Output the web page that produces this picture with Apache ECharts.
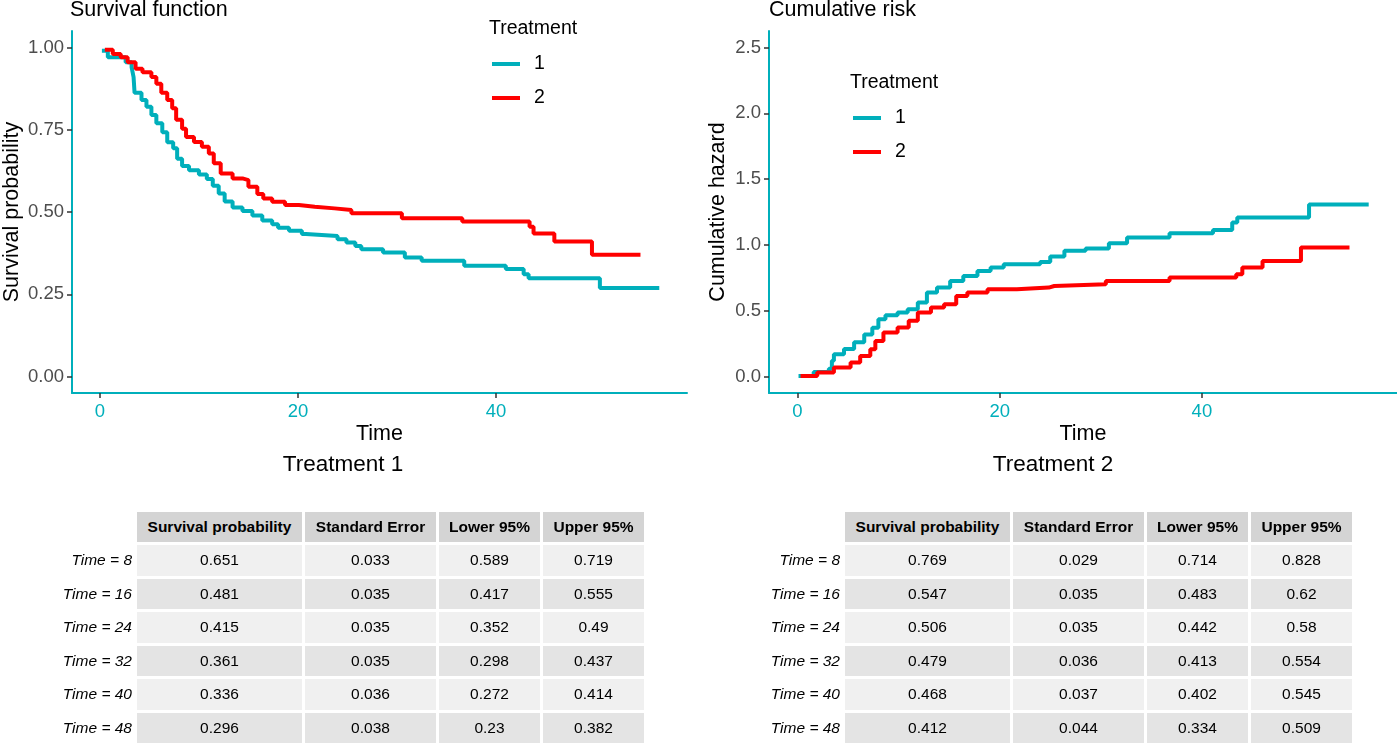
<!DOCTYPE html>
<html>
<head>
<meta charset="utf-8">
<script src="https://cdn.jsdelivr.net/npm/echarts@6/dist/echarts.min.js"></script>
<style>
html,body{margin:0;padding:0;background:#fff;}
#wrap{position:relative;width:1397px;height:744px;overflow:hidden;font-family:"Liberation Sans",Arial,Helvetica,sans-serif;}
#chart{position:absolute;left:0;top:0;width:1397px;height:744px;}
.cell{position:absolute;text-align:center;font-size:15.5px;color:#000;white-space:nowrap;}
.head{font-weight:bold;background:#D4D4D4;}
.odd{background:#F0F0F0;}
.even{background:#E4E4E4;}
.rlab{position:absolute;text-align:right;font-style:italic;font-size:15.5px;color:#000;white-space:nowrap;}
</style>
</head>
<body>
<div id="wrap"><div id="chart"></div></div>
<script>
// ---------------- data ----------------
// Survival function (Kaplan-Meier), treatment 1 and 2: [time, probability]
const survT1 = [[0.2,0.990],[0.8,0.970],[2.6,0.955],[3.2,0.940],[3.4,0.910],[3.5,0.862],[4.2,0.840],[4.7,0.820],[5.2,0.795],[5.7,0.770],[6.3,0.742],[6.8,0.712],[7.4,0.694],[7.8,0.662],[8.3,0.640],[9.0,0.627],[10.0,0.614],[10.8,0.600],[11.4,0.580],[12.0,0.556],[12.6,0.532],[13.4,0.514],[14.4,0.503],[15.4,0.489],[16.4,0.474],[17.4,0.463],[18.0,0.452],[19.1,0.443],[20.4,0.433],[20.8,0.427],[24.0,0.417],[24.9,0.407],[25.8,0.397],[26.4,0.387],[28.6,0.377],[30.8,0.362],[32.5,0.352],[36.8,0.337],[41.0,0.327],[42.8,0.311],[43.3,0.299],[50.5,0.269],[56.5,0.269]];
const survT2 = [[0.5,0.993],[1.3,0.980],[2.1,0.970],[2.8,0.955],[3.6,0.935],[4.3,0.925],[5.2,0.910],[5.7,0.890],[6.2,0.862],[6.8,0.840],[7.3,0.815],[7.7,0.780],[8.3,0.753],[8.7,0.728],[9.5,0.713],[10.3,0.698],[11.0,0.678],[11.5,0.648],[12.2,0.617],[13.4,0.602],[14.4,0.597],[15.0,0.577],[15.9,0.555],[16.5,0.541],[17.4,0.531],[18.7,0.521],[20.1,0.516],[21.7,0.511],[23.7,0.506],[25.4,0.496],[30.5,0.481],[36.6,0.471],[43.4,0.455],[43.8,0.435],[45.9,0.410],[49.7,0.370],[54.6,0.370]];
// Cumulative hazard: [time, hazard]
const hazT1 = [[0.1,0.005],[1.6,0.035],[3.1,0.060],[3.4,0.120],[3.6,0.170],[4.6,0.210],[5.6,0.260],[6.6,0.320],[7.4,0.370],[8.0,0.435],[8.7,0.466],[9.9,0.486],[10.9,0.511],[11.9,0.562],[12.8,0.638],[13.8,0.676],[15.1,0.726],[16.4,0.764],[17.8,0.802],[19.1,0.828],[20.4,0.853],[24.0,0.871],[25.0,0.912],[26.4,0.955],[28.5,0.973],[30.8,1.013],[32.6,1.056],[36.8,1.089],[41.1,1.114],[43.0,1.170],[43.5,1.208],[50.6,1.307],[56.5,1.307]];
const hazT2 = [[0.3,0.005],[1.95,0.030],[3.6,0.068],[5.25,0.106],[6.2,0.157],[7.2,0.207],[7.7,0.270],[8.5,0.334],[9.9,0.372],[11.0,0.423],[11.9,0.486],[13.2,0.524],[14.5,0.549],[15.7,0.612],[16.8,0.638],[18.8,0.663],[21.7,0.676],[24.85,0.688],[25.4,0.701],[30.5,0.726],[36.8,0.752],[43.4,0.777],[44.0,0.828],[46.0,0.878],[49.8,0.980],[54.6,0.980]];

const groupNames = ['1','2'];
const xTicks = [0,20,40];
const ySurvTicks = [0,0.25,0.5,0.75,1];
const yHazTicks = [0,0.5,1,1.5,2,2.5];

// Tables
const tableTitles = ['Treatment 1','Treatment 2'];
const rowLabels = ['Time = 8','Time = 16','Time = 24','Time = 32','Time = 40','Time = 48'];
const colLabels = ['Survival probability','Standard Error','Lower 95%','Upper 95%'];
const t1Surv  = [0.651,0.481,0.415,0.361,0.336,0.296];
const t1SE    = [0.033,0.035,0.035,0.035,0.036,0.038];
const t1Lower = [0.589,0.417,0.352,0.298,0.272,0.23];
const t1Upper = [0.719,0.555,0.49,0.437,0.414,0.382];
const t2Surv  = [0.769,0.547,0.506,0.479,0.468,0.412];
const t2SE    = [0.029,0.035,0.035,0.036,0.037,0.044];
const t2Lower = [0.714,0.483,0.442,0.413,0.402,0.334];
const t2Upper = [0.828,0.62,0.58,0.554,0.545,0.509];

// ---------------- chart ----------------
const TEAL = '#00AFBB', RED = '#FF0000';
const FONT = '"Liberation Sans", Arial, Helvetica, sans-serif';

function xAxisCfg(gi){
  return {
    type:'value', gridIndex:gi, min:-2.82, max:59.3,
    name:'Time', nameLocation:'middle', nameGap:30,
    nameTextStyle:{fontSize:21.5, color:'#000', fontFamily:FONT},
    axisLine:{show:true, onZero:false, lineStyle:{color:TEAL, width:2}},
    axisTick:{show:true, customValues:xTicks, length:5, lineStyle:{color:'#333', width:1.5}},
    axisLabel:{customValues:xTicks, color:TEAL, fontSize:18.5, margin:9, fontFamily:FONT},
    splitLine:{show:false}
  };
}
function yAxisCfg(gi, min, max, ticks, dec, name, gap){
  return {
    type:'value', gridIndex:gi, min:min, max:max,
    name:name, nameLocation:'middle', nameGap:gap,
    nameTextStyle:{fontSize:21.5, color:'#000', fontFamily:FONT},
    axisLine:{show:true, onZero:false, lineStyle:{color:TEAL, width:2}},
    axisTick:{show:true, customValues:ticks, length:5, lineStyle:{color:'#333', width:1.5}},
    axisLabel:{customValues:ticks, color:'#4D4D4D', fontSize:18.5, margin:8, fontFamily:FONT,
      formatter:v=>Number(v).toFixed(dec)},
    splitLine:{show:false}
  };
}
function stepSeries(name, data, color, gi){
  return {type:'line', name:name, data:data, xAxisIndex:gi, yAxisIndex:gi, step:'end',
    showSymbol:false, symbol:'none', lineStyle:{color:color, width:4}, itemStyle:{color:color},
    emphasis:{disabled:true}, animation:false, z:3};
}
function legendCfg(left, top){
  return {orient:'vertical', left:left, top:top, data:groupNames, icon:'rect',
    itemWidth:28, itemHeight:4, itemGap:14, padding:0, selectedMode:false,
    textStyle:{fontSize:19.5, color:'#000', fontFamily:FONT, padding:[0,0,0,9]}};
}
function txt(x, y, s, size, align){
  return {type:'text', x:x, y:y, style:{text:s, fontSize:size, fill:'#000', fontFamily:FONT,
    align:align||'left', verticalAlign:'middle'}};
}

const chart = echarts.init(document.getElementById('chart'), null, {renderer:'canvas'});
chart.setOption({
  animation:false,
  backgroundColor:'#fff',
  grid:[{left:70, top:31, width:617, height:362}, {left:769, top:31, width:628, height:362}],
  xAxis:[xAxisCfg(0), xAxisCfg(1)],
  yAxis:[yAxisCfg(0,-0.05,1.05,ySurvTicks,2,'Survival probability',49),
         yAxisCfg(1,-0.125,2.625,yHazTicks,1,'Cumulative hazard',40)],
  legend:[legendCfg(492,54), legendCfg(853,108)],
  series:[stepSeries(groupNames[0], survT1, TEAL, 0), stepSeries(groupNames[1], survT2, RED, 0),
          stepSeries(groupNames[0], hazT1, TEAL, 1), stepSeries(groupNames[1], hazT2, RED, 1)],
  graphic:[
    txt(70, 10, 'Survival function', 21.5),
    txt(769, 10, 'Cumulative risk', 21.5),
    txt(489, 29, 'Treatment', 19.5),
    txt(850, 83, 'Treatment', 19.5),
    txt(343, 465, tableTitles[0], 22.5, 'center'),
    txt(1053, 465, tableTitles[1], 22.5, 'center')
  ]
});

// ---------------- tables (HTML) ----------------
function buildTable(left, cols){
  const wrap = document.getElementById('wrap');
  const colX = [0,168,302,406], colW = [165,131,101,101];
  const headTop = 512, headH = 30, rowTop = 545, rowPitch = 33.5, rowH = 30.5;
  colLabels.forEach((c,j)=>{
    const d = document.createElement('div');
    d.className = 'cell head';
    d.style.cssText = `left:${left+colX[j]}px;top:${headTop}px;width:${colW[j]}px;height:${headH}px;line-height:${headH}px;`;
    d.textContent = c; wrap.appendChild(d);
  });
  rowLabels.forEach((r,i)=>{
    const top = rowTop + i*rowPitch;
    const l = document.createElement('div');
    l.className = 'rlab';
    l.style.cssText = `left:${left-140}px;width:135px;top:${top}px;height:${rowH}px;line-height:${rowH}px;`;
    l.textContent = r; wrap.appendChild(l);
    cols.forEach((arr,j)=>{
      const d = document.createElement('div');
      d.className = 'cell ' + (i%2===0 ? 'odd' : 'even');
      d.style.cssText = `left:${left+colX[j]}px;top:${top}px;width:${colW[j]}px;height:${rowH}px;line-height:${rowH}px;`;
      d.textContent = String(arr[i]); wrap.appendChild(d);
    });
  });
}
buildTable(137, [t1Surv,t1SE,t1Lower,t1Upper]);
buildTable(845, [t2Surv,t2SE,t2Lower,t2Upper]);
</script>
</body>
</html>
